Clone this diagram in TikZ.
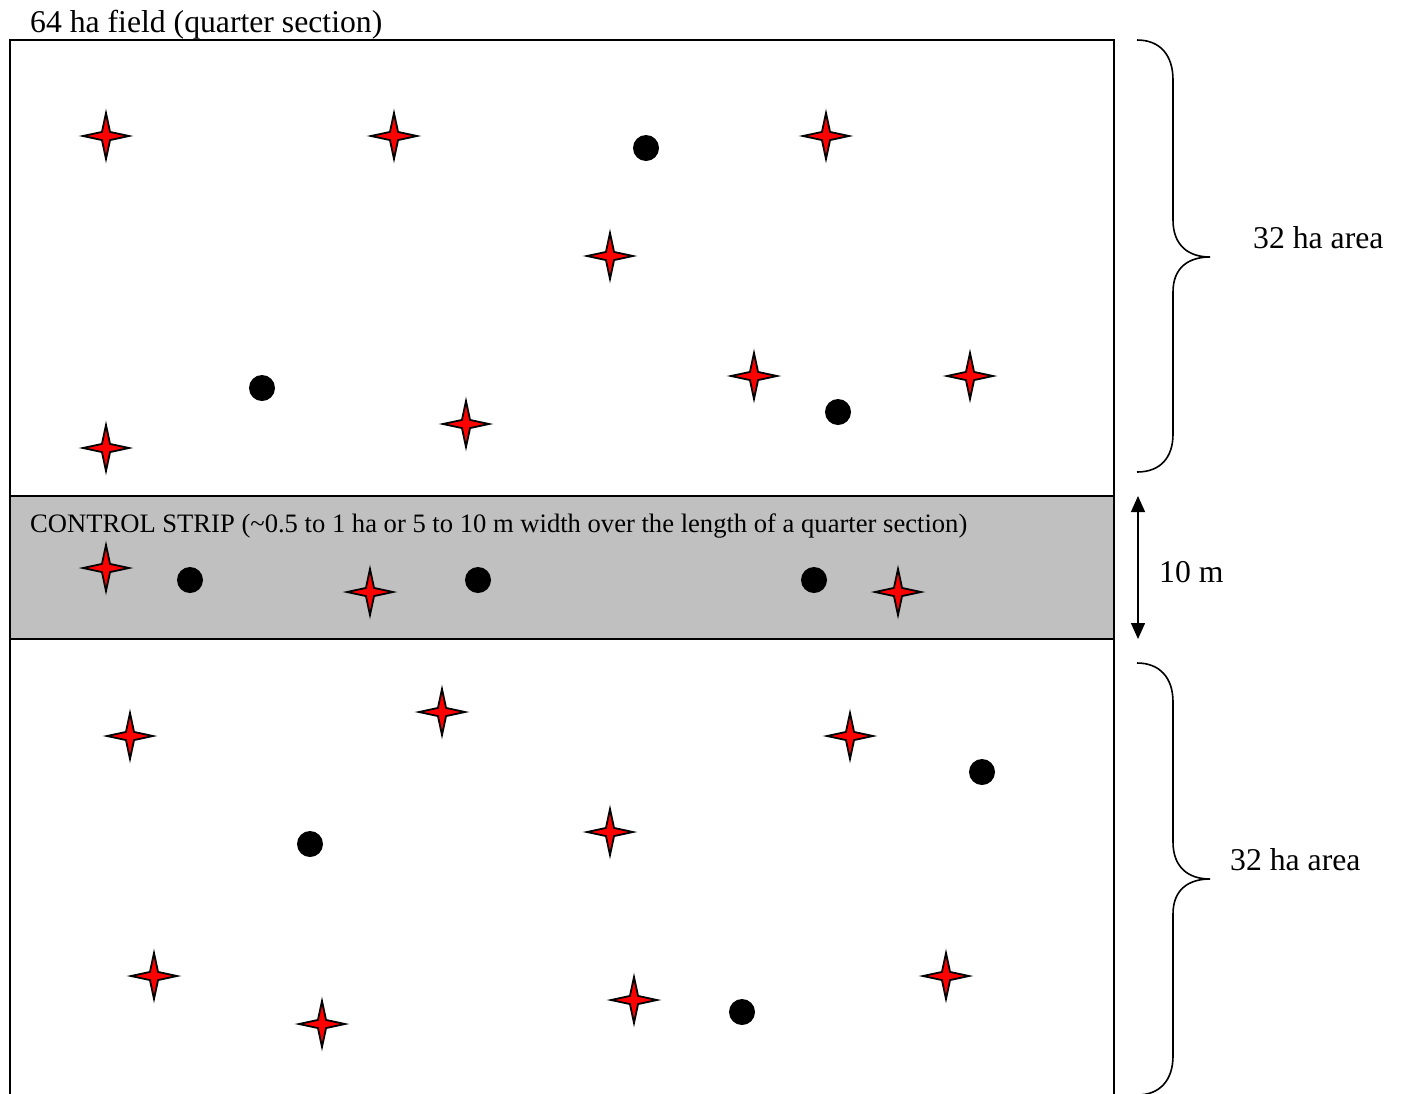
\documentclass[tikz,border=0pt]{standalone}
\usepackage{fontspec}
\setmainfont{Liberation Serif}
\usetikzlibrary{shapes.geometric,arrows.meta}
\definecolor{stripgray}{HTML}{C0C0C0}
\begin{document}
\begin{tikzpicture}[x=1pt,y=-1pt,
  redstar/.style={star, star points=4, star point ratio=4.0, minimum size=46pt, inner sep=0pt, draw=black, fill=red, line width=1.8pt},
  dot/.style={circle, fill=black, minimum size=26pt, inner sep=0pt},
  bigtext/.style={font=\fontsize{31.7}{36}\selectfont, anchor=base west, inner sep=0pt},
  striptext/.style={font=\fontsize{26.6}{30}\selectfont, anchor=base west, inner sep=0pt},
  frame/.style={line width=2pt},
  bracestyle/.style={line width=1.6pt},
]
\useasboundingbox (0,0) rectangle (1403,1093);
\clip (0,0) rectangle (1403,1093);

% control strip
\fill[stripgray] (10,496) rectangle (1114,639);
\draw[frame] (10,496) -- (1114,496);
\draw[frame] (10,639) -- (1114,639);
% field outline (bottom edge beyond the page)
\draw[frame] (10,1110) -- (10,40) -- (1114,40) -- (1114,1110);

% labels
\node[bigtext] (title) at (30,32) {64 ha field (quarter section)};
\node[striptext] (striplabel) at (30,532) {CONTROL STRIP (\textasciitilde 0.5 to 1 ha or 5 to 10 m width over the length of a quarter section)};
\node[bigtext] (areaA) at (1253,248) {32 ha area};
\node[bigtext] (areaB) at (1230,870) {32 ha area};
\node[bigtext] (width) at (1159,582) {10 m};

% 10 m arrow
\coordinate (wtop) at (1138,496);
\coordinate (wbot) at (1138,639);
\draw[line width=1.4pt, {Triangle[width=14pt,length=16pt]}-{Triangle[width=14pt,length=16pt]}] (wtop) -- (wbot);

% braces
\draw[bracestyle] (1137,40) .. controls (1160,40) and (1173,55) .. (1173,80) -- (1173,220)
  .. controls (1173,245) and (1188,257) .. (1210,257)
  .. controls (1188,257) and (1173,268) .. (1173,292) -- (1173,434)
  .. controls (1173,458) and (1160,472) .. (1137,472);
\draw[bracestyle] (1137,663) .. controls (1160,663) and (1173,678) .. (1173,702) -- (1173,842)
  .. controls (1173,867) and (1188,879) .. (1210,879)
  .. controls (1188,879) and (1173,890) .. (1173,914) -- (1173,1056)
  .. controls (1173,1080) and (1160,1095) .. (1137,1095);

% top area
\node[redstar] (t1) at (106,136) {};
\node[redstar] (t2) at (394,136) {};
\node[redstar] (t3) at (826,136) {};
\node[redstar] (t4) at (610,256) {};
\node[redstar] (t5) at (754,376) {};
\node[redstar] (t6) at (970,376) {};
\node[redstar] (t7) at (466,424) {};
\node[redstar] (t8) at (106,448) {};
\node[dot] (td1) at (646,148) {};
\node[dot] (td2) at (262,388) {};
\node[dot] (td3) at (838,412) {};

% control strip points
\node[redstar] (c1) at (106,568) {};
\node[redstar] (c2) at (370,592) {};
\node[redstar] (c3) at (898,592) {};
\node[dot] (cd1) at (190,580) {};
\node[dot] (cd2) at (478,580) {};
\node[dot] (cd3) at (814,580) {};

% bottom area
\node[redstar] (b1) at (130,736) {};
\node[redstar] (b2) at (442,712) {};
\node[redstar] (b3) at (850,736) {};
\node[redstar] (b4) at (610,832) {};
\node[redstar] (b5) at (154,976) {};
\node[redstar] (b6) at (322,1024) {};
\node[redstar] (b7) at (634,1000) {};
\node[redstar] (b8) at (946,976) {};
\node[dot] (bd1) at (982,772) {};
\node[dot] (bd2) at (310,844) {};
\node[dot] (bd3) at (742,1012) {};
\end{tikzpicture}
\end{document}
